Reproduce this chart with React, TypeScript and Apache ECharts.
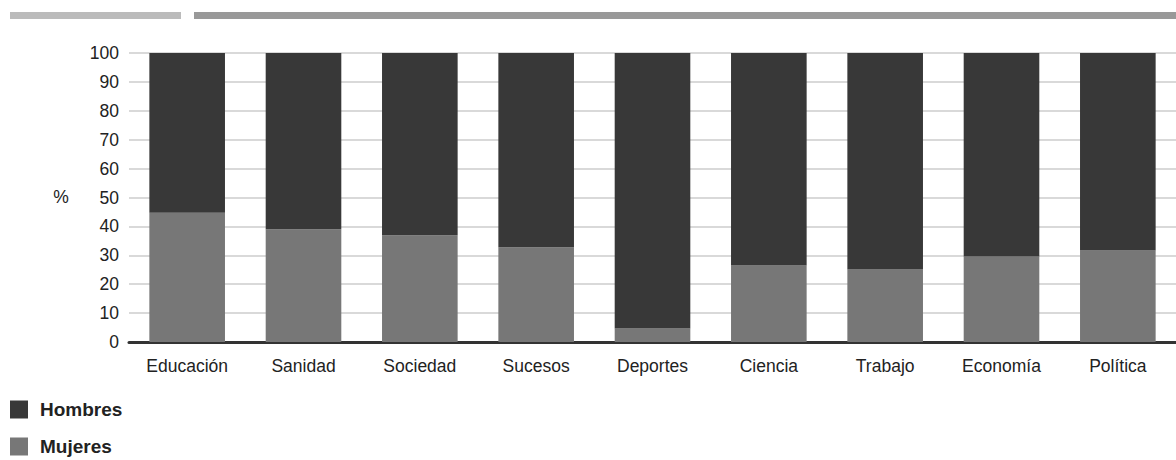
import React, { useEffect, useRef } from "react";
import * as echarts from "echarts";

const categories = ["Educación", "Sanidad", "Sociedad", "Sucesos", "Deportes", "Ciencia", "Trabajo", "Economía", "Política"];
const mujeres = [44.7, 39.0, 36.9, 32.8, 4.7, 26.5, 25.1, 29.6, 31.7];
const hombres = [55.3, 61.0, 63.1, 67.2, 95.3, 73.5, 74.9, 70.4, 68.3];
const seriesNames = ["Hombres", "Mujeres"];
const yTicks = [0, 10, 20, 30, 40, 50, 60, 70, 80, 90, 100];

const FONT = "'Liberation Sans', Arial, sans-serif";

export default function App() {
  const ref = useRef<HTMLDivElement>(null);
  useEffect(() => {
    if (!ref.current) return;
    const chart = echarts.init(ref.current, undefined, { renderer: "svg" });
    chart.setOption({
      animation: false,
      backgroundColor: "#ffffff",
      textStyle: { fontFamily: FONT },
      grid: { left: 129, top: 53, width: 1056, bottom: 118 },
      legend: {
        data: seriesNames,
        orient: "vertical",
        left: 10,
        top: 400,
        padding: 0,
        icon: "rect",
        itemWidth: 18,
        itemHeight: 18,
        itemGap: 18,
        textStyle: { fontFamily: FONT, fontSize: 19, fontWeight: "bold", color: "#222", padding: [0, 0, 0, 7] },
      },
      xAxis: {
        type: "category",
        data: categories,
        axisLine: { lineStyle: { color: "#333", width: 3 } },
        axisTick: { show: false },
        axisLabel: { fontFamily: FONT, fontSize: 17.5, color: "#222", margin: 15 },
      },
      yAxis: {
        type: "value",
        min: yTicks[0],
        max: yTicks[yTicks.length - 1],
        interval: 10,
        axisLine: { show: false },
        axisTick: { show: false },
        axisLabel: { fontFamily: FONT, fontSize: 17.5, color: "#222", margin: 10 },
        splitLine: { lineStyle: { color: "#cccccc", width: 1.5 } },
      },
      graphic: [
        { type: "rect", shape: { x: 10, y: 12, width: 171, height: 7 }, style: { fill: "#bbbbbb" } },
        { type: "rect", shape: { x: 194, y: 12, width: 982, height: 7 }, style: { fill: "#999999" } },
        {
          type: "text",
          x: 61,
          y: 197,
          style: { text: "%", font: `17.5px ${FONT}`, fill: "#222", align: "center", verticalAlign: "middle" },
        },
      ],
      series: [
        {
          name: "Mujeres",
          type: "bar",
          stack: "total",
          data: mujeres,
          barCategoryGap: "35%",
          itemStyle: { color: "#777777" },
        },
        {
          name: "Hombres",
          type: "bar",
          stack: "total",
          data: hombres,
          barCategoryGap: "35%",
          itemStyle: { color: "#383838" },
        },
      ],
    });
    return () => chart.dispose();
  }, []);
  return (
    <div
      ref={ref}
      style={{ position: "absolute", left: 0, top: 0, width: 1176, height: 460 }}
    />
  );
}
